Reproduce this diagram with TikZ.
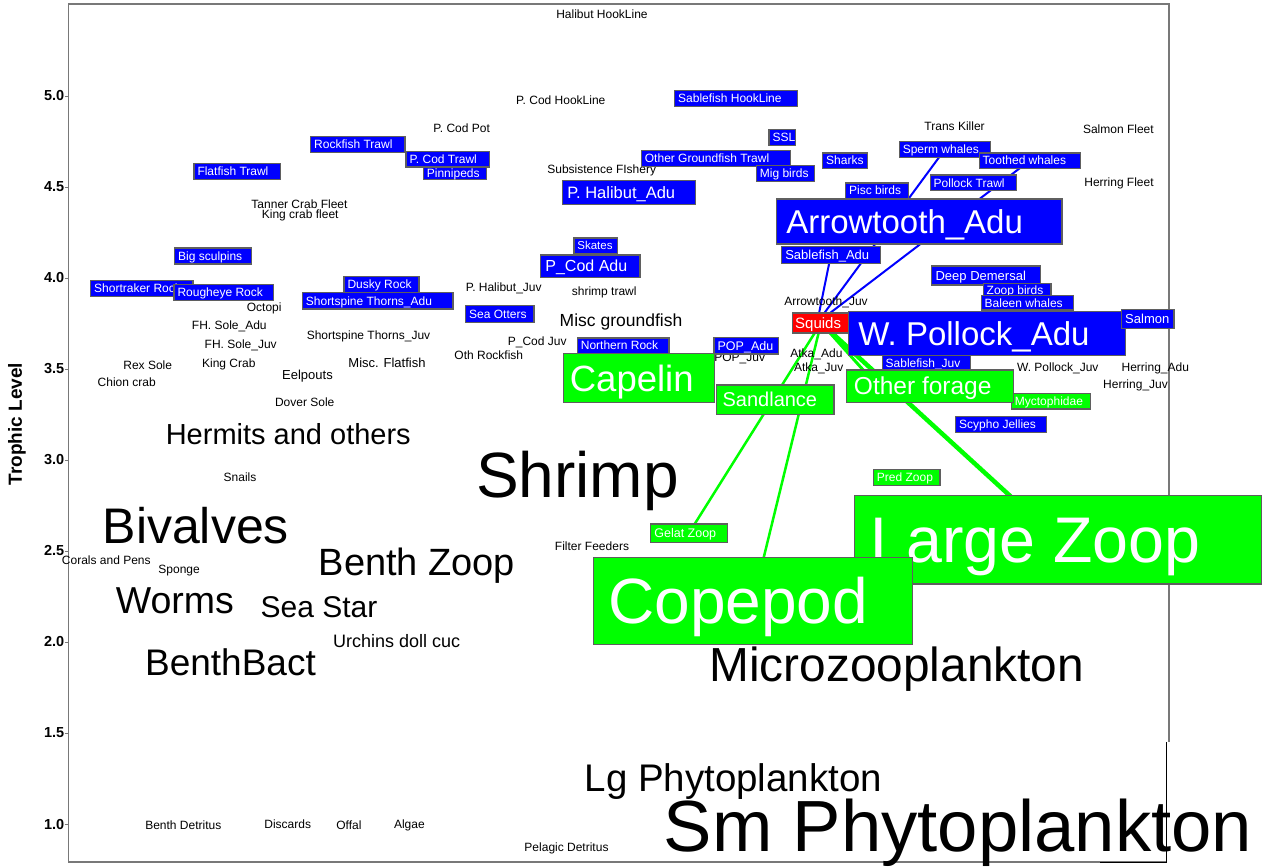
\documentclass[tikz,border=0pt]{standalone}
\usepackage{fontspec}
\setmainfont{Liberation Sans}
\usetikzlibrary{calc}
\pgfdeclarelayer{bg}
\pgfsetlayers{bg,main}
\definecolor{bblue}{RGB}{0,0,255}
\definecolor{bgreen}{RGB}{0,255,0}
\definecolor{bred}{RGB}{255,0,0}
\definecolor{frm}{RGB}{120,120,120}
\definecolor{edge}{RGB}{95,95,95}
\newcommand\fsz[1]{\fontsize{#1}{#1}\selectfont}
\tikzset{
  box/.style={draw=edge, line width=1.2pt, inner sep=0pt, text=white},
  lbl/.style={inner sep=0pt, text=black},
  ticklbl/.style={inner sep=0pt, anchor=east, font=\bfseries\fsz{14.5}},
  frameline/.style={draw=frm, line width=1.5pt},
  bl/.style={draw=bblue, line width=2pt},
  gl/.style={draw=bgreen, line width=2.5pt}
}
% box: [pad]{name}{colour}{left}{top}{right}{bottom}{size}{text}
\newcommand\bx[9][0.3em]{%
  \node[box, fill=#3, font=\fsz{#8}, anchor=north west, minimum height={#7pt-#5pt}] (#2) at (#4,#5)
  {\makebox[\dimexpr#6pt-#4pt\relax][l]{\hspace*{#1}\rule{0pt}{0.72em}\smash{#9}}};}
% label: {name}{cx}{cy}{size}{text}
\newcommand\lb[5]{\node[lbl, font=\fsz{#4}, anchor=base] (#1) at ({#2},{#3+0.36*#4}) {#5};}
\begin{document}
\begin{tikzpicture}[x=1pt, y=-1pt]
\useasboundingbox (0,0) rectangle (1263,867);
% frame and axis
\draw[frameline] (68.3,862) -- (68.3,4) -- (1169,4) -- (1169,742);
\draw[frameline] (68.3,862) -- (1166.7,862);
\foreach \v/\yy/\nm in {5.0/96/t50,4.5/187/t45,4.0/278/t40,3.5/369/t35,3.0/460/t30,2.5/551/t25,2.0/642/t20,1.5/733/t15,1.0/824/t10}{
  \node[ticklbl] (\nm) at (64.5,\yy) {\v};
  \draw[frameline, line width=1pt] (64.5,\yy) -- (68.3,\yy);
}
\node[lbl, rotate=90, font=\bfseries\fsz{19}] (ylab) at (17,424) {Trophic Level};
% plain labels
\lb{hhl}{602}{14}{12}{Halibut HookLine}
\lb{pchl}{560.8}{100}{12}{P. Cod HookLine}
\lb{pcpot}{461.7}{127.7}{12}{P. Cod Pot}
\lb{trans}{954.6}{125.7}{12}{Trans Killer}
\lb{salF}{1118.4}{128.7}{12}{Salmon Fleet}
\lb{herF}{1119}{182.3}{12}{Herring Fleet}
\lb{subs}{601.7}{169.3}{12}{Subsistence FIshery}
\lb{tanner}{299.5}{204}{12}{Tanner Crab Fleet}
\lb{kingf}{300.2}{214}{12}{King crab fleet}
\lb{halJ}{503.7}{286.7}{12}{P. Halibut\_Juv}
\lb{strawl}{604.2}{291}{12}{shrimp trawl}
\lb{octopi}{264.2}{306.7}{12}{Octopi}
\lb{arrJ}{826}{301}{12}{Arrowtooth\_Juv}
\lb{fhA}{229.3}{325}{12}{FH. Sole\_Adu}
\lb{miscg}{621}{320}{17.5}{Misc groundfish}
\lb{sstJ}{368.5}{335}{12}{Shortspine Thorns\_Juv}
\lb{fhJ}{240.7}{344}{12}{FH. Sole\_Juv}
\lb{codJ}{537.2}{340.7}{12}{P\_Cod Juv}
\lb{othr}{488.8}{355}{12}{Oth Rockfish}
\lb{rex}{147.7}{365}{12}{Rex Sole}
\lb{kingc}{228.8}{363.3}{12}{King Crab}
\lb{miscf}{387}{363}{13}{Misc. Flatfish}
\lb{eel}{307.5}{375.3}{13}{Eelpouts}
\lb{chion}{126.7}{382}{12}{Chion crab}
\lb{popJ}{739.7}{357.3}{12}{POP\_Juv}
\lb{atkaA}{816.4}{353.3}{12}{Atka\_Adu}
\lb{atkaJ}{818.7}{366.7}{12}{Atka\_Juv}
\lb{wpJ}{1057.8}{367.3}{12}{W. Pollock\_Juv}
\lb{herA}{1155.3}{366.7}{12}{Herring\_Adu}
\lb{herJ}{1135.5}{384}{12}{Herring\_Juv}
\lb{dover}{304.7}{402.3}{12}{Dover Sole}
\lb{hermit}{288.3}{434.3}{29}{Hermits and others}
\lb{shrimp}{577.5}{474}{64}{Shrimp}
\lb{snails}{240}{477.3}{12}{Snails}
\lb{bival}{195.8}{525.3}{50}{Bivalves}
\lb{filter}{592}{546}{12}{Filter Feeders}
\lb{corals}{106.3}{560}{12}{Corals and Pens}
\lb{sponge}{179.1}{569.3}{12}{Sponge}
\lb{bzoop}{416.9}{561.7}{38}{Benth Zoop}
\lb{worms}{174.9}{599.7}{37.5}{Worms}
\lb{seastar}{319}{607}{30}{Sea Star}
\lb{urch}{396.7}{640.7}{18}{Urchins doll cuc}
\lb{bbact}{230.5}{662.2}{37}{BenthBact}
\lb{micro}{896.7}{663.8}{47.8}{Microzooplankton}
\lb{lgphy}{733.4}{778}{38.5}{Lg Phytoplankton}
\lb{smphy}{958}{825.5}{72.5}{Sm Phytoplankton}
\lb{bdet}{183.3}{825}{12}{Benth Detritus}
\lb{disc}{287.7}{824}{12}{Discards}
\lb{offal}{348.9}{825}{12}{Offal}
\lb{algae}{409.4}{824}{12}{Algae}
\lb{pdet}{566.5}{846.7}{12}{Pelagic Detritus}
% boxes
\bx{flatT}{bblue}{193.3}{162.7}{280}{178.7}{12}{Flatfish Trawl}
\bx{rockT}{bblue}{310}{136}{404.3}{151.7}{12}{Rockfish Trawl}
\bx{pinn}{bblue}{422.7}{165.5}{485.7}{179}{12}{Pinnipeds}
\bx{codT}{bblue}{405.3}{151}{488.5}{166.3}{12}{P. Cod Trawl}
\bx{sculp}{bblue}{174}{247.3}{251}{263.3}{12}{Big sculpins}
\bx{shortr}{bblue}{90}{279.5}{192.3}{296}{12}{Shortraker Rock}
\bx{rough}{bblue}{173.3}{283.7}{272.7}{299.7}{12}{Rougheye Rock}
\bx{dusky}{bblue}{343.3}{275.7}{418.3}{291.7}{12}{Dusky Rock}
\bx{sstA}{bblue}{301.7}{292}{452.3}{308.3}{12}{Shortspine Thorns\_Adu}
\bx{otters}{bblue}{465}{305}{533.3}{321.7}{12}{Sea Otters}
\bx{sableHL}{bblue}{674}{90}{796.7}{106}{12}{Sablefish HookLine}
\bx{ogt}{bblue}{640.7}{150}{790}{165.7}{12}{Other Groundfish Trawl}
\bx{ssl}{bblue}{768.3}{129}{795}{145}{12}{SSL}
\bx{mig}{bblue}{755.7}{165}{814}{181}{12}{Mig birds}
\bx{halA}{bblue}{561.7}{180}{695}{204}{16.5}{P. Halibut\_Adu}
\bx{skates}{bblue}{573.3}{237.3}{616.7}{252.7}{11.5}{Skates}
\bx{codA}{bblue}{540}{254.3}{639.3}{276.7}{16}{P\_Cod Adu}
\bx{north}{bblue}{576.7}{337.3}{668.3}{352.7}{12}{Northern Rock}
\bx{popA}{bblue}{713.3}{336.7}{777.7}{353.3}{12.5}{POP\_Adu}
\bx{sharks}{bblue}{822}{152.3}{866.7}{167.7}{12}{Sharks}
\bx{sperm}{bblue}{898.6}{141}{989.9}{156.7}{12}{Sperm whales}
\bx{tooth}{bblue}{978.5}{152.3}{1079.8}{167.7}{12}{Toothed whales}
\bx{pollT}{bblue}{929.5}{174.3}{1016}{190}{12}{Pollock Trawl}
\bx{pisc}{bblue}{844.9}{182.3}{908}{197.7}{12}{Pisc birds}
\bx{arrA}{bblue}{775.8}{198.3}{1061.3}{243.3}{33}{Arrowtooth\_Adu}
\bx{sabA}{bblue}{780.8}{245.7}{879.8}{262.7}{13}{Sablefish\_Adu}
\bx{deep}{bblue}{931.1}{265.3}{1040.2}{284.3}{13}{Deep Demersal}
\bx{zoopb}{bblue}{982.5}{282.7}{1050.3}{296.7}{12}{Zoop birds}
\bx{baleen}{bblue}{980.5}{295}{1073}{309.3}{12}{Baleen whales}
\bx[0.18em]{squids}{bred}{791.9}{312.3}{849}{332.3}{15}{Squids}
\bx{wpA}{bblue}{847.9}{310.7}{1124.8}{355}{33}{W. Pollock\_Adu}
\bx{salmon}{bblue}{1120.7}{309}{1173.4}{327.7}{13}{Salmon}
\bx{sabJ}{bblue}{881.5}{355}{969.7}{369.3}{12}{Sablefish\_Juv}
\bx{scypho}{bblue}{955}{415.5}{1045.7}{431.7}{12}{Scypho Jellies}
\bx[0.18em]{capelin}{bgreen}{562.7}{352.7}{714}{402}{36.5}{Capelin}
\bx{sand}{bgreen}{716}{384.3}{833.3}{414}{20}{Sandlance}
\bx{myct}{bgreen}{1010.7}{392.5}{1090}{408.3}{12}{Myctophidae}
\bx{ofor}{bgreen}{846}{369.3}{1013}{401.7}{24.5}{Other forage}
\bx{predz}{bgreen}{872.7}{469}{939.3}{484.7}{12}{Pred Zoop}
\bx{gelat}{bgreen}{650}{523.3}{726.7}{541.7}{12.5}{Gelat Zoop}
\bx[0.25em]{lzoop}{bgreen}{853.7}{494.5}{1260.5}{583.3}{64.5}{Large Zoop}
\bx[0.23em]{cope}{bgreen}{593}{556.7}{912}{644}{64}{Copepod}
% connectors behind the boxes
\begin{pgfonlayer}{bg}
\coordinate (sqb) at ($(squids.center)+(-4,0)$);
\draw[bl] (sqb) -- (sabA.center);
\draw[bl] (sqb) -- (sperm.center);
\draw[bl] (sqb) -- (tooth.center);
\draw[gl] (squids.center) -- (gelat.center);
\draw[gl] (squids.center) -- (cope.center);
\draw[gl, line width=3pt] (squids.center) -- ($(ofor.north west)+(30,15)$);
\draw[gl, line width=4.5pt] (squids.center) -- (lzoop.center);
\end{pgfonlayer}
% lower right frame segment
\draw[black, line width=0.8pt] (1166.7,742) -- (1166.7,862) -- (1100,862);
\end{tikzpicture}
\end{document}
